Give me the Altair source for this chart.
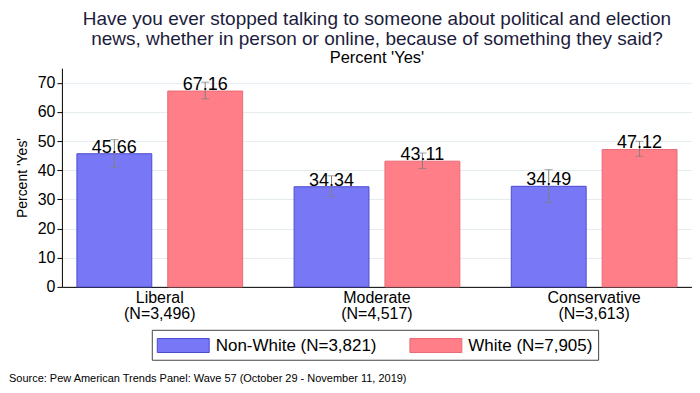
import altair as alt
import pandas as pd

ideology = ["Liberal", "Moderate", "Conservative"]
ideology_n = ["(N=3,496)", "(N=4,517)", "(N=3,613)"]
groups = ["Non-White (N=3,821)", "White (N=7,905)"]
nonwhite = [45.66, 34.34, 34.49]
white = [67.16, 43.11, 47.12]
nonwhite_lo = [40.9, 31.0, 29.0]
nonwhite_hi = [50.5, 38.1, 40.2]
white_lo = [64.5, 40.6, 44.8]
white_hi = [70.2, 45.9, 49.9]
source = "Source: Pew American Trends Panel: Wave 57 (October 29 - November 11, 2019)"

rows = []
for i, ide in enumerate(ideology):
    cat = ide + "|" + ideology_n[i]
    rows.append(dict(cat=cat, group=groups[0], value=nonwhite[i], lo=nonwhite_lo[i], hi=nonwhite_hi[i]))
    rows.append(dict(cat=cat, group=groups[1], value=white[i], lo=white_lo[i], hi=white_hi[i]))
df = pd.DataFrame(rows)
cats = [ide + "|" + ideology_n[i] for i, ide in enumerate(ideology)]

FONT = "Liberation Sans"

x = alt.X("cat:N", sort=cats, title=None,
          scale=alt.Scale(paddingInner=0.237, paddingOuter=0.069),
          axis=alt.Axis(labelExpr="split(datum.label, '|')", labelAngle=0, labelFontSize=16,
                        labelColor="black", ticks=False, labelPadding=3, domainColor="black",
                        labelLineHeight=16, labelFont=FONT))
xo = alt.XOffset("group:N", sort=groups, scale=alt.Scale(paddingInner=0.176, paddingOuter=0))

yscale = alt.Scale(domain=[0, 75], nice=False)
yaxis = alt.Axis(values=[0, 10, 20, 30, 40, 50, 60, 70], labelFontSize=16, labelColor="black",
                 tickColor="black", tickSize=5, domainColor="black", gridColor="#E4EBEF",
                 titleFontSize=14, titleFontWeight="normal", titleColor="black",
                 titlePadding=8, labelPadding=2, labelFont=FONT, titleFont=FONT)
YT = "Percent 'Yes'"

base = alt.Chart(df)

bars = base.mark_bar(strokeWidth=1).encode(
    x=x, xOffset=xo,
    y=alt.Y("value:Q", title=YT, scale=yscale, axis=yaxis),
    fill=alt.Fill("group:N", sort=groups,
                  scale=alt.Scale(domain=groups, range=["#7878F6", "#FF7E87"]),
                  legend=alt.Legend(title=None, orient="none", legendX=90, legendY=262,
                                    direction="horizontal", columns=2,
                                    symbolType="M-1,-0.7H4.2V0.7H-1Z", symbolSize=400,
                                    symbolStrokeWidth=1, symbolStrokeColor="#5050C8",
                                    labelFontSize=17, labelColor="black", labelFont=FONT,
                                    labelOffset=38, columnPadding=30, padding=5,
                                    strokeColor="#444444", fillColor="white", labelLimit=300)),
    stroke=alt.Stroke("group:N", sort=groups,
                      scale=alt.Scale(domain=groups, range=["#4A4AD0", "#E86A75"]), legend=None),
)

rules = base.mark_rule(color="#808080", strokeWidth=1).encode(
    x=x, xOffset=xo,
    y=alt.Y("lo:Q", title=YT, scale=yscale, axis=yaxis), y2="hi:Q")
caps_lo = base.mark_tick(color="#808080", size=8, thickness=1, orient="horizontal").encode(
    x=x, xOffset=xo, y=alt.Y("lo:Q", title=YT, scale=yscale, axis=yaxis))
caps_hi = base.mark_tick(color="#808080", size=8, thickness=1, orient="horizontal").encode(
    x=x, xOffset=xo, y=alt.Y("hi:Q", title=YT, scale=yscale, axis=yaxis))

labels = base.mark_text(fontSize=18, baseline="alphabetic", dy=-1, color="black", font=FONT).encode(
    x=x, xOffset=xo, y=alt.Y("value:Q", title=YT, scale=yscale, axis=yaxis),
    text=alt.Text("value:Q", format=".2f"))

src = alt.Chart(pd.DataFrame({"t": [source]})).mark_text(
    align="left", baseline="middle", fontSize=11, color="black", font=FONT
).encode(x=alt.value(-53), y=alt.value(311), text="t:N")

chart = alt.layer(bars, rules, caps_lo, caps_hi, labels, src).properties(
    width=631, height=219,
    autosize=alt.AutoSizeParams(type="none"),
    padding={"left": 54, "top": 60, "right": 0, "bottom": 98},
    title=alt.TitleParams(
        text=["Have you ever stopped talking to someone about political and election",
              "news, whether in person or online, because of something they said?"],
        subtitle="Percent 'Yes'",
        fontSize=19, fontWeight="normal", color="#1C1C3C", lineHeight=19.5, font=FONT,
        subtitleFontSize=16.5, subtitleColor="black", subtitleFont=FONT, subtitlePadding=1,
        anchor="middle", offset=2),
).configure_view(stroke=None).configure_axisX(grid=False)

chart.save("out.html", embed_options={"renderer": "svg", "actions": False})
